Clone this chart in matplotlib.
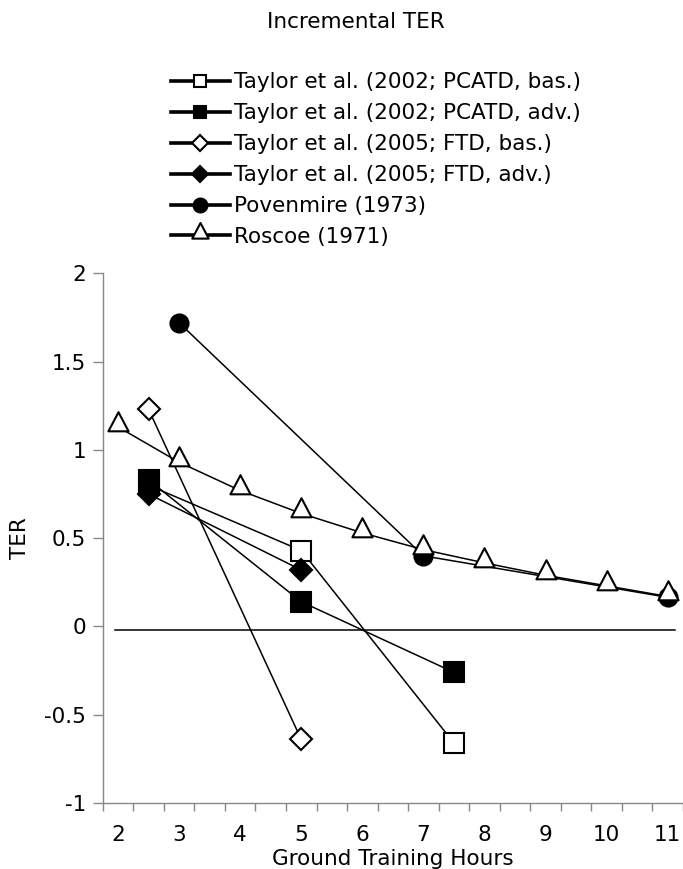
import matplotlib
matplotlib.use("Agg")
import matplotlib.pyplot as plt
from matplotlib.lines import Line2D
from matplotlib.path import Path
import numpy as np

plt.rcParams["font.family"] = ["DejaVu Sans"]

# --- data ---
t02_bas_x = [2.5, 5, 7.5]
t02_bas_y = [0.80, 0.43, -0.66]
t02_adv_x = [2.5, 5, 7.5]
t02_adv_y = [0.83, 0.14, -0.26]
t05_bas_x = [2.5, 5]
t05_bas_y = [1.23, -0.64]
t05_adv_x = [2.5, 5]
t05_adv_y = [0.75, 0.32]
pov_x = [3, 7, 11]
pov_y = [1.72, 0.40, 0.165]
ros_x = [2, 3, 4, 5, 6, 7, 8, 9, 10, 11]
ros_y = [1.13, 0.93, 0.77, 0.64, 0.53, 0.435, 0.36, 0.29, 0.23, 0.17]
zero_x = [1.95, 11.12]
zero_y = [-0.02, -0.02]

labels = [
    "Taylor et al. (2002; PCATD, bas.)",
    "Taylor et al. (2002; PCATD, adv.)",
    "Taylor et al. (2005; FTD, bas.)",
    "Taylor et al. (2005; FTD, adv.)",
    "Povenmire (1973)",
    "Roscoe (1971)",
]
x_ticks = [2, 3, 4, 5, 6, 7, 8, 9, 10, 11]
y_ticks = [-1, -0.5, 0, 0.5, 1, 1.5, 2]
y_ticklabels = ["-1", "-0.5", "0", "0.5", "1", "1.5", "2"]

FS = 15.5

# triangle whose point of reference sits near its base, as in the source chart
tri = Path([(0, 1), (-0.66, -0.25), (0.66, -0.25), (0, 1)],
           [Path.MOVETO, Path.LINETO, Path.LINETO, Path.CLOSEPOLY])

# marker style per series: (marker, face, plot size, legend size)
styles = [
    ("s", "white", 14.5, 8.5),
    ("s", "black", 14.5, 8.5),
    ("D", "white", 11.5, 8.0),
    ("D", "black", 11.5, 8.0),
    ("o", "black", 13.0, 10.0),
    (tri, "white", 22.0, 18.0),
]
series = [
    (t02_bas_x, t02_bas_y),
    (t02_adv_x, t02_adv_y),
    (t05_bas_x, t05_bas_y),
    (t05_adv_x, t05_adv_y),
    (pov_x, pov_y),
    (ros_x, ros_y),
]

fig = plt.figure(figsize=(6.83, 8.69), dpi=100)
ax = fig.add_axes([0.1504, 0.0759, 0.8496, 0.6096])

ax.plot(zero_x, zero_y, color="black", lw=1.1, zorder=1)

for (xs, ys), (mk, fc, ms, _) in zip(series, styles):
    ax.plot(xs, ys, color="black", lw=1.1, marker=mk, markersize=ms,
            markerfacecolor=fc, markeredgecolor="black", markeredgewidth=1.5,
            zorder=2)

ax.set_xlim(1.75, 11.25)
ax.set_ylim(-1, 2)
ax.set_xticks(x_ticks)
ax.set_xticklabels([str(v) for v in x_ticks])
ax.set_xticks(np.arange(1.75, 11.3, 0.5), minor=True)
ax.set_yticks(y_ticks)
ax.set_yticklabels(y_ticklabels)
ax.tick_params(axis="x", which="major", length=0, pad=16, labelsize=FS)
ax.tick_params(axis="x", which="minor", length=6, width=1, color="#888888",
               direction="out")
ax.tick_params(axis="y", length=7, width=1, color="#888888", pad=5,
               labelsize=FS)

for side in ("top", "right"):
    ax.spines[side].set_visible(False)
for side in ("left", "bottom"):
    ax.spines[side].set_color("#888888")
    ax.spines[side].set_linewidth(1.0)

ax.set_xlabel("Ground Training Hours", fontsize=FS, va="center")
ax.xaxis.set_label_coords(0.5, -0.106)
ax.set_ylabel("TER", fontsize=FS, va="center")
ax.yaxis.set_label_coords(-0.143, 0.5)

handles = [
    Line2D([], [], color="black", lw=2.6, marker=mk, markersize=ls,
           markerfacecolor=fc, markeredgecolor="black", markeredgewidth=1.5)
    for (mk, fc, _, ls) in styles
]
fig.legend(handles, labels, loc="upper left", bbox_to_anchor=(0.25, 0.917),
           frameon=False, fontsize=FS, handlelength=2.75, handletextpad=0.2,
           labelspacing=0.51, borderaxespad=0, borderpad=0)

fig.text(0.521, 0.975, "Incremental TER", ha="center", va="center",
         fontsize=FS)

fig.savefig("out.png", dpi=100)
